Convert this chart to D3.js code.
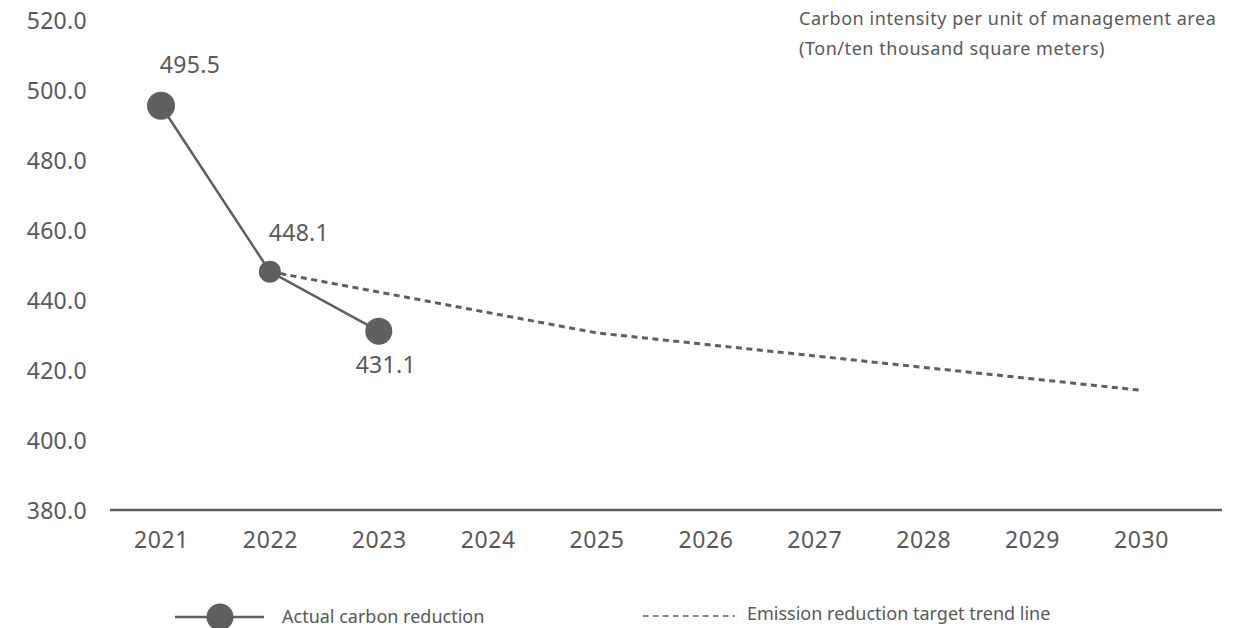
<!DOCTYPE html>
<html>
<head>
<meta charset="utf-8">
<script src="https://cdn.jsdelivr.net/npm/d3@7"></script>
<style>
  html, body { margin: 0; padding: 0; background: #fff; }
  svg { display: block; font-family: "Noto Sans", sans-serif; }
</style>
</head>
<body>
<svg id="chart" width="1252" height="628"></svg>
<script>
// ---- data ----
const years = [2021, 2022, 2023, 2024, 2025, 2026, 2027, 2028, 2029, 2030];
const actualYears = [2021, 2022, 2023];
const actualValues = [495.5, 448.1, 431.1];
const targetYears = [2022, 2025, 2030];
const targetValues = [448.1, 430.6, 414.2];
const yTicks = [380, 400, 420, 440, 460, 480, 500, 520];
const titleLines = ["Carbon intensity per unit of management area", "(Ton/ten thousand square meters)"];
const legendLabels = ["Actual carbon reduction", "Emission reduction target trend line"];

// ---- styles ----
const ink = "#5f5f5f";
const textColor = "#595959";
const markerRadius = [14, 11, 13.5];
const labelOffsets = [[29, -41], [29, -39], [7, 34]];

const svg = d3.select("#chart");

const x = d3.scalePoint().domain(years).range([161, 1141]);
const y = d3.scaleLinear().domain([380, 520]).range([510, 20]);

// y axis labels
const yAxis = d3.axisLeft(y).tickValues(yTicks).tickFormat(d3.format(".1f")).tickSize(0).tickPadding(0);
const gy = svg.append("g").attr("transform", "translate(87,0)").call(yAxis);
gy.select(".domain").remove();
gy.selectAll("text").attr("fill", textColor)
  .style("font-size", "23px").style("letter-spacing", "0.3px")
  .style("font-family", "'Noto Sans', sans-serif").attr("dy", "0.36em");

// x axis
const xAxis = d3.axisBottom(x).tickSize(0).tickPadding(0);
const gx = svg.append("g").attr("transform", "translate(0,510)").call(xAxis);
gx.select(".domain").remove();
gx.selectAll("text").attr("fill", textColor)
  .style("font-size", "23px").style("letter-spacing", "0.6px")
  .style("font-family", "'Noto Sans', sans-serif").attr("y", 38).attr("dy", null);

svg.append("line")
  .attr("x1", 110).attr("x2", 1222).attr("y1", 510).attr("y2", 510)
  .attr("stroke", ink).attr("stroke-width", 2.5);

// target dashed line
const targetData = targetYears.map((yr, i) => ({ year: yr, value: targetValues[i] }));
svg.append("path")
  .datum(targetData)
  .attr("fill", "none")
  .attr("stroke", ink)
  .attr("stroke-width", 3)
  .attr("stroke-dasharray", "6,4.5")
  .attr("d", d3.line().x(d => x(d.year)).y(d => y(d.value)));

// actual line
const actualData = actualYears.map((yr, i) => ({ year: yr, value: actualValues[i], i }));
svg.append("path")
  .datum(actualData)
  .attr("fill", "none")
  .attr("stroke", ink)
  .attr("stroke-width", 2.5)
  .attr("d", d3.line().x(d => x(d.year)).y(d => y(d.value)));

svg.selectAll("circle.pt")
  .data(actualData)
  .join("circle")
  .attr("class", "pt")
  .attr("cx", d => x(d.year))
  .attr("cy", d => y(d.value))
  .attr("r", d => markerRadius[d.i])
  .attr("fill", ink);

svg.selectAll("text.lbl")
  .data(actualData)
  .join("text")
  .attr("class", "lbl")
  .attr("x", d => x(d.year) + labelOffsets[d.i][0])
  .attr("y", d => y(d.value) + labelOffsets[d.i][1])
  .attr("dy", "0.36em")
  .attr("text-anchor", "middle")
  .attr("fill", textColor)
  .style("font-size", "23px")
  .style("letter-spacing", "0.3px")
  .text(d => d.value.toFixed(1));

// title (top-right)
svg.selectAll("text.title")
  .data(titleLines)
  .join("text")
  .attr("class", "title")
  .attr("x", 799)
  .attr("y", (d, i) => 25 + i * 30)
  .attr("fill", textColor)
  .style("font-size", "18px")
  .style("letter-spacing", "0.55px")
  .text(d => d);

// legend
const lg = svg.append("g");
lg.append("line").attr("x1", 175).attr("x2", 264).attr("y1", 617).attr("y2", 617)
  .attr("stroke", ink).attr("stroke-width", 2.5);
lg.append("circle").attr("cx", 220).attr("cy", 617).attr("r", 13.5).attr("fill", ink);
lg.append("text").attr("x", 282).attr("y", 623).attr("fill", textColor)
  .style("font-size", "18px").text(legendLabels[0]);

lg.append("line").attr("x1", 643).attr("x2", 735).attr("y1", 616).attr("y2", 616)
  .attr("stroke", ink).attr("stroke-width", 1.5).attr("stroke-dasharray", "5.5,4.5");
lg.append("text").attr("x", 747).attr("y", 620).attr("fill", textColor)
  .style("font-size", "18px").text(legendLabels[1]);
</script>
</body>
</html>
